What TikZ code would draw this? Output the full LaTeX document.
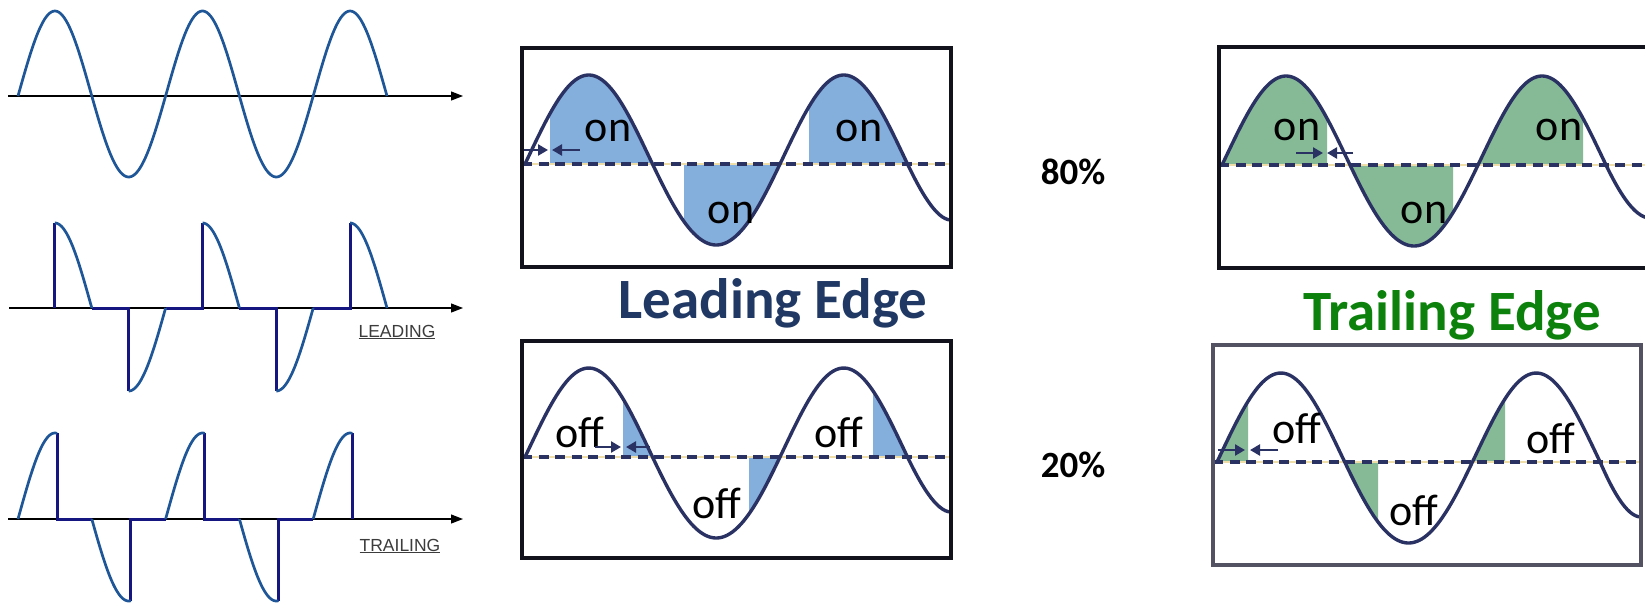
\documentclass[tikz,border=0pt]{standalone}
\usepackage{fontspec}
\setmainfont{Carlito}
\newfontfamily\arialf{Liberation Sans}
\usetikzlibrary{arrows.meta}
\definecolor{sineblue}{RGB}{30,86,152}
\definecolor{navyline}{RGB}{22,22,128}
\definecolor{wavenavy}{RGB}{42,50,100}
\definecolor{fillblue}{RGB}{132,174,220}
\definecolor{fillgreen}{RGB}{134,186,150}
\definecolor{leadcol}{RGB}{31,56,100}
\definecolor{trailcol}{RGB}{12,130,12}
\definecolor{boxdark}{RGB}{18,18,28}
\definecolor{boxgray}{RGB}{82,82,98}
\definecolor{paleyellow}{RGB}{240,222,168}
\definecolor{labelgray}{RGB}{60,60,60}
\begin{document}
\begin{tikzpicture}[x=1pt,y=-1pt,
  declare function={sw(\t,\a,\b)=\a*sin(\t)+\b*sin(\t)*sin(\t);},
  axisline/.style={line width=1.2pt,black,-{Triangle[length=12pt,width=9pt]}},
  sinecurve/.style={line width=2.7pt,sineblue},
  cutline/.style={line width=3pt,navyline},
  wavestyle/.style={line width=3.4pt,wavenavy},
  dashline/.style={line width=3.4pt,wavenavy,dash pattern=on 10pt off 6.5pt},
  yline/.style={line width=1.6pt,paleyellow},
  boxA/.style={line width=3.6pt,boxdark},
  boxB/.style={line width=3.8pt,boxgray},
  gaparrow/.style={line width=2.4pt,wavenavy,-{Triangle[length=10pt,width=11pt]}},
  onoff/.style={anchor=base,font=\fontsize{44}{50}\selectfont,inner sep=0pt},
  pct/.style={font=\fontsize{37}{40}\selectfont\bfseries,inner sep=0pt},
  title/.style={anchor=base,font=\fontsize{57}{60}\selectfont\bfseries,inner sep=0pt},
  smalllabel/.style={anchor=base,font=\arialf\fontsize{17.5}{20}\selectfont,text=labelgray,inner sep=0pt}
]
\fill[white] (0,0) rectangle (1645,603);
\useasboundingbox (0,0) rectangle (1645,603);

% ---------- left: full sine ----------
\coordinate (ax1s) at (8,96);
\coordinate (ax1e) at (463,96);
\draw[axisline] (ax1s) -- (ax1e);
\draw[sinecurve] plot[domain=18:387,samples=200] (\x,{96-sw((\x-18)/73.8*180,83,2)});

% ---------- left: leading edge ----------
\coordinate (ax2s) at (9,308);
\coordinate (ax2e) at (463,308);
\draw[axisline] (ax2s) -- (ax2e);
\draw[cutline] (54.9,308) -- (54.9,223);
\draw[cutline] (91.8,308) -- (128.7,308) -- (128.7,391);
\draw[cutline] (165.6,308) -- (202.5,308) -- (202.5,223);
\draw[cutline] (239.4,308) -- (276.3,308) -- (276.3,391);
\draw[cutline] (313.2,308) -- (350.1,308) -- (350.1,223);
\draw[sinecurve] plot[domain=54.9:91.8,samples=40] (\x,{308-sw((\x-18)/73.8*180,84,1)});
\draw[sinecurve] plot[domain=128.7:165.6,samples=40] (\x,{308-sw((\x-18)/73.8*180,84,1)});
\draw[sinecurve] plot[domain=202.5:239.4,samples=40] (\x,{308-sw((\x-18)/73.8*180,84,1)});
\draw[sinecurve] plot[domain=276.3:313.2,samples=40] (\x,{308-sw((\x-18)/73.8*180,84,1)});
\draw[sinecurve] plot[domain=350.1:387,samples=40] (\x,{308-sw((\x-18)/73.8*180,84,1)});
\node[smalllabel] (lead) at (397,337) {\underline{LEADING}};

% ---------- left: trailing edge ----------
\coordinate (ax3s) at (8,519);
\coordinate (ax3e) at (463,519);
\draw[axisline] (ax3s) -- (ax3e);
\draw[cutline] (57.1,433.4) -- (57.1,519) -- (91.8,519);
\draw[cutline] (130.9,600.6) -- (130.9,519) -- (165.6,519);
\draw[cutline] (204.7,433.4) -- (204.7,519) -- (239.4,519);
\draw[cutline] (278.5,600.6) -- (278.5,519) -- (313.2,519);
\draw[cutline] (352.3,433.4) -- (352.3,519);
\draw[sinecurve] plot[domain=18:57.1,samples=40] (\x,{519-sw((\x-18)/73.8*180,84,2)});
\draw[sinecurve] plot[domain=91.8:130.9,samples=40] (\x,{519-sw((\x-18)/73.8*180,84,2)});
\draw[sinecurve] plot[domain=165.6:204.7,samples=40] (\x,{519-sw((\x-18)/73.8*180,84,2)});
\draw[sinecurve] plot[domain=239.4:278.5,samples=40] (\x,{519-sw((\x-18)/73.8*180,84,2)});
\draw[sinecurve] plot[domain=313.2:352.3,samples=40] (\x,{519-sw((\x-18)/73.8*180,84,2)});
\node[smalllabel] (trail) at (400,551) {\underline{TRAILING}};

% ---------- middle top: leading 80% ----------
\fill[fillblue] (550,164) -- plot[domain=550:652.5,samples=50] (\x,{164-sw((\x-525)/127.5*180,85,4)}) -- cycle;
\fill[fillblue] (684,164) -- plot[domain=684:780,samples=50] (\x,{164-sw((\x-525)/127.5*180,85,4)}) -- cycle;
\fill[fillblue] (809,164) -- plot[domain=809:907.5,samples=50] (\x,{164-sw((\x-525)/127.5*180,85,4)}) -- cycle;
\draw[yline] (522,164) -- (951,164);
\draw[dashline] (522,164) -- (951,164);
\draw[wavestyle] plot[domain=525:907.5,samples=160] (\x,{164-sw((\x-525)/127.5*180,85,4)}) .. controls (919.5,189) and (936,220) .. (951,220);
\node[onoff] (mt1) at (608,141) {on};
\node[onoff] (mt2) at (731,223) {on};
\node[onoff] (mt3) at (859,141) {on};
\coordinate (mta) at (523,150); \coordinate (mtat) at (548,150);
\coordinate (mtb) at (580,150); \coordinate (mtbt) at (552,150);
\draw[gaparrow] (mta) -- (mtat);
\draw[gaparrow] (mtb) -- (mtbt);
\draw[boxA] (521.8,47.8) rectangle (951.2,267.2);

% ---------- middle bottom: leading 20% ----------
\fill[fillblue] (623,457) -- plot[domain=623:652.5,samples=30] (\x,{457-sw((\x-525)/127.5*180,85,4)}) -- cycle;
\fill[fillblue] (749,457) -- plot[domain=749:780,samples=30] (\x,{457-sw((\x-525)/127.5*180,85,4)}) -- cycle;
\fill[fillblue] (873,457) -- plot[domain=873:907.5,samples=30] (\x,{457-sw((\x-525)/127.5*180,85,4)}) -- cycle;
\draw[yline] (522,457) -- (951,457);
\draw[dashline] (522,457) -- (951,457);
\draw[wavestyle] plot[domain=525:907.5,samples=160] (\x,{457-sw((\x-525)/127.5*180,85,4)}) .. controls (919.5,482) and (936,512) .. (951,512);
\node[onoff] (mb1) at (580,447) {off};
\node[onoff] (mb2) at (717,518) {off};
\node[onoff] (mb3) at (839,447) {off};
\coordinate (mba) at (595,447); \coordinate (mbat) at (621,447);
\coordinate (mbb) at (650,447); \coordinate (mbbt) at (626,447);
\draw[gaparrow] (mba) -- (mbat);
\draw[gaparrow] (mbb) -- (mbbt);
\draw[boxA] (521.8,340.8) rectangle (951.2,558.2);

% ---------- percentages ----------
\node[pct] (p80) at (1073,172) {80\%};
\node[pct] (p20) at (1073,465) {20\%};

% ---------- titles ----------
\node[title,text=leadcol] (tlead) at (773,318) {Leading Edge};
\node[title,text=trailcol] (ttrail) at (1452,330) {Trailing Edge};

% ---------- right top: trailing 80% ----------
\fill[fillgreen] (1222,165) -- plot[domain=1222:1327,samples=50] (\x,{165-sw((\x-1222)/128*180,85,4)}) -- (1327,165) -- cycle;
\fill[fillgreen] (1350,165) -- plot[domain=1350:1453,samples=50] (\x,{165-sw((\x-1222)/128*180,85,4)}) -- (1453,165) -- cycle;
\fill[fillgreen] (1478,165) -- plot[domain=1478:1583,samples=50] (\x,{165-sw((\x-1222)/128*180,85,4)}) -- (1583,165) -- cycle;
\draw[yline] (1219,165) -- (1650,165);
\draw[dashline] (1219,165) -- (1650,165);
\draw[wavestyle] plot[domain=1222:1606,samples=160] (\x,{165-sw((\x-1222)/128*180,85,4)}) .. controls (1618,190) and (1634,218) .. (1650,218);
\node[onoff] (rt1) at (1297,140) {on};
\node[onoff] (rt2) at (1424,223) {on};
\node[onoff] (rt3) at (1559,140) {on};
\coordinate (rta) at (1296,153); \coordinate (rtat) at (1323,153);
\coordinate (rtb) at (1353,153); \coordinate (rtbt) at (1327,153);
\draw[gaparrow] (rta) -- (rtat);
\draw[gaparrow] (rtb) -- (rtbt);
\draw[boxA] (1218.8,46.8) rectangle (1660,268.2);

% ---------- right bottom: trailing 20% ----------
\fill[fillgreen] (1217,462) -- plot[domain=1217:1248,samples=30] (\x,{462-sw((\x-1217)/127.7*180,85,4)}) -- (1248,462) -- cycle;
\fill[fillgreen] (1344.7,462) -- plot[domain=1344.7:1378,samples=30] (\x,{462-sw((\x-1217)/127.7*180,85,4)}) -- (1378,462) -- cycle;
\fill[fillgreen] (1472,462) -- plot[domain=1472:1505,samples=30] (\x,{462-sw((\x-1217)/127.7*180,85,4)}) -- (1505,462) -- cycle;
\draw[yline] (1213,462) -- (1641,462);
\draw[dashline] (1213,462) -- (1641,462);
\draw[wavestyle] plot[domain=1217:1600.1,samples=160] (\x,{462-sw((\x-1217)/127.7*180,85,4)}) .. controls (1611,487) and (1626,517) .. (1641,517);
\node[onoff] (rb1) at (1297,443) {off};
\node[onoff] (rb2) at (1414,525) {off};
\node[onoff] (rb3) at (1551,453) {off};
\coordinate (rba) at (1218,450); \coordinate (rbat) at (1245,450);
\coordinate (rbb) at (1278,450); \coordinate (rbbt) at (1250,450);
\draw[gaparrow] (rba) -- (rbat);
\draw[gaparrow] (rbb) -- (rbbt);
\draw[boxB] (1212.9,344.9) rectangle (1641.1,565.1);
\end{tikzpicture}
\end{document}
